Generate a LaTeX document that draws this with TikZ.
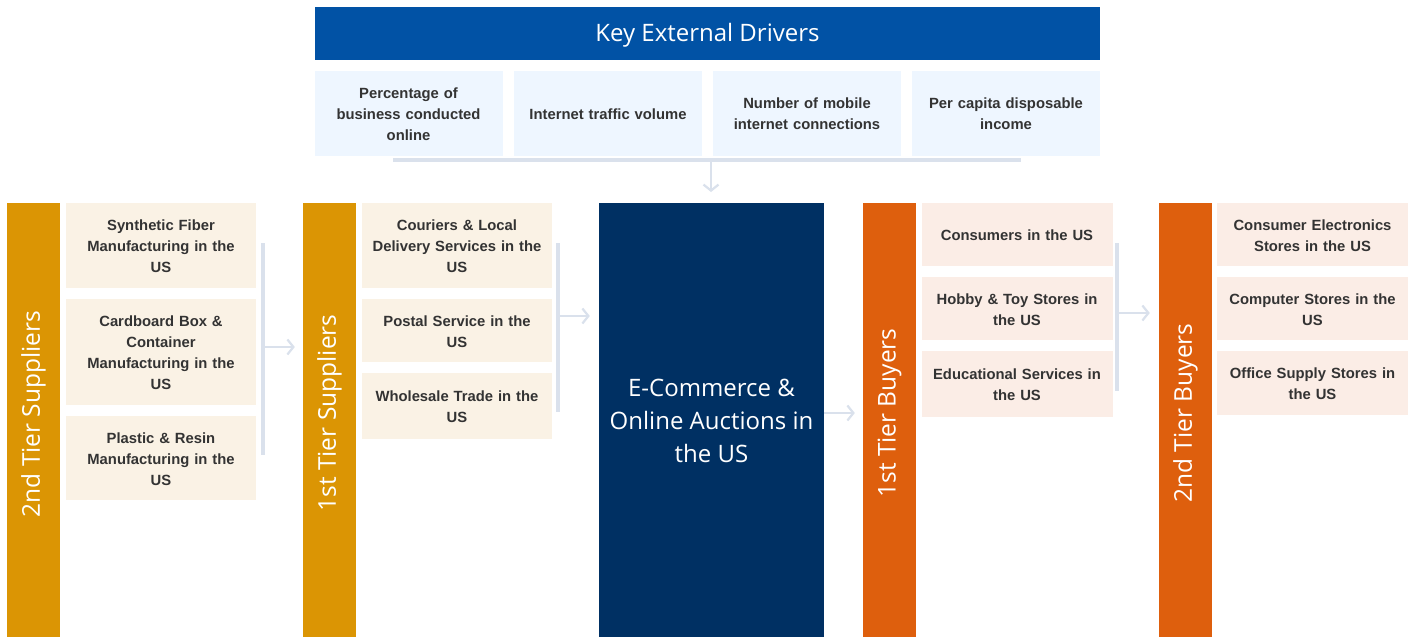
\documentclass[tikz,border=0pt]{standalone}
\usepackage{fontspec}
\setmainfont{Liberation Sans}
\newfontfamily\opensans{Open Sans}
\usetikzlibrary{arrows.meta}
\definecolor{hdrblue}{RGB}{1,82,165}
\definecolor{drvfill}{RGB}{238,246,255}
\definecolor{gold}{RGB}{219,149,4}
\definecolor{supfill}{RGB}{250,242,229}
\definecolor{navy}{RGB}{0,48,99}
\definecolor{rust}{RGB}{222,95,13}
\definecolor{buyfill}{RGB}{251,237,230}
\definecolor{link}{RGB}{218,225,236}
\definecolor{ink}{RGB}{51,51,51}
\tikzset{
  x=1pt, y=-1pt,
  cell/.style={rectangle, inner sep=0pt, align=center, text=ink,
    font=\fontsize{14.8}{21}\selectfont\bfseries},
  drv/.style={cell, fill=drvfill, minimum width=188, minimum height=85, text width=182},
  sup/.style={cell, fill=supfill, minimum width=190, text width=180},
  buy/.style={cell, fill=buyfill, minimum width=191, text width=182},
  bar/.style={rectangle, inner sep=0pt, minimum width=53, minimum height=434},
  bartext/.style={rotate=90, text=white, font=\opensans\fontsize{24.5}{28}\selectfont},
  rail/.style={draw=link, line width=4},
  flow/.style={draw=link, line width=2.2, -{Straight Barb[length=6,width=15,line width=2.2]}},
}
\begin{document}
\begin{tikzpicture}
\useasboundingbox[fill=white] (0,0) rectangle (1415,637);

% key external drivers
\node[rectangle, fill=hdrblue, minimum width=785, minimum height=53, inner sep=0pt] (hdr) at (707.5,33.5) {};
\node[text=white, font=\opensans\fontsize{24}{28}\selectfont] (hdrtext) at (707.5,35) {Key External Drivers};
\node[drv] (d1) at (408.5,113) {\rule{0pt}{13pt}Percentage of\\business conducted\\online};
\node[drv] (d2) at (608,113) {\rule{0pt}{13pt}Internet traffic volume};
\node[drv] (d3) at (807,113) {\rule{0pt}{13pt}Number of mobile\\internet connections};
\node[drv] (d4) at (1006,113) {\rule{0pt}{13pt}Per capita disposable\\income};

% industry bar
\node[rectangle, fill=navy, minimum width=225, minimum height=434, inner sep=0pt] (core) at (711.5,420) {};
\node[text=white, align=center, font=\opensans\fontsize{24}{33}\selectfont] (coretext) at (711.5,421)
  {E-Commerce \&\\Online Auctions in\\the US};

% second tier suppliers
\node[bar, fill=gold] (s2) at (33.5,420) {};
\node[bartext] at (33.5,414) {2nd Tier Suppliers};
\node[sup, minimum height=85] (s2a) at (161,245.5) {\rule{0pt}{13pt}Synthetic Fiber\\Manufacturing in the\\US};
\node[sup, minimum height=106] (s2b) at (161,352) {\rule{0pt}{13pt}Cardboard Box \&\\Container\\Manufacturing in the\\US};
\node[sup, minimum height=84] (s2c) at (161,458) {\rule{0pt}{13pt}Plastic \& Resin\\Manufacturing in the\\US};

% first tier suppliers
\node[bar, fill=gold] (s1) at (329.5,420) {};
\node[bartext] at (329.5,413) {1st Tier Suppliers};
\node[sup, minimum height=85] (s1a) at (457,245.5) {\rule{0pt}{13pt}Couriers \& Local\\Delivery Services in the\\US};
\node[sup, minimum height=63] (s1b) at (457,330.5) {\rule{0pt}{13pt}Postal Service in the\\US};
\node[sup, minimum height=66] (s1c) at (457,406) {\rule{0pt}{13pt}Wholesale Trade in the\\US};

% first tier buyers
\node[bar, fill=rust] (b1) at (889.5,420) {};
\node[bartext] at (889.5,413) {1st Tier Buyers};
\node[buy, minimum height=63] (b1a) at (1017,234.5) {\rule{0pt}{13pt}Consumers in the US};
\node[buy, minimum height=63] (b1b) at (1017,308.5) {\rule{0pt}{13pt}Hobby \& Toy Stores in\\the US};
\node[buy, minimum height=66] (b1c) at (1017,384) {\rule{0pt}{13pt}Educational Services in\\the US};

% second tier buyers
\node[bar, fill=rust] (b2) at (1185.5,420) {};
\node[bartext] at (1185.5,413) {2nd Tier Buyers};
\node[buy, minimum height=63] (b2a) at (1312.5,234.5) {\rule{0pt}{13pt}Consumer Electronics\\Stores in the US};
\node[buy, minimum height=63] (b2b) at (1312.5,308.5) {\rule{0pt}{13pt}Computer Stores in the\\US};
\node[buy, minimum height=64] (b2c) at (1312.5,383) {\rule{0pt}{13pt}Office Supply Stores in\\the US};

% joints of the connectors
\coordinate (dl) at (393,160);
\coordinate (dr) at (1021,160);
\coordinate (dj) at (711,160);
\coordinate (dtip) at (711,192);
\coordinate (j1t) at (263,243); \coordinate (j1b) at (263,455); \coordinate (j1) at (263,347);
\coordinate (j2t) at (558,243); \coordinate (j2b) at (558,412); \coordinate (j2) at (558,316);
\coordinate (j3t) at (1117,243); \coordinate (j3b) at (1117,391); \coordinate (j3) at (1117,313);

% connectors
\draw[rail] (dl) -- (dr);
\draw[flow] (dj) -- (dtip);
\draw[rail] (j1t) -- (j1b);
\draw[flow] (j1) -- ([xshift=-8]j1 -| s1.west);
\draw[rail] (j2t) -- (j2b);
\draw[flow] (j2) -- ([xshift=-9]j2 -| core.west);
\draw[flow] (core.east |- 0,413) -- ([xshift=-8]b1.west |- 0,413);
\draw[rail] (j3t) -- (j3b);
\draw[flow] (j3) -- ([xshift=-9]j3 -| b2.west);
\end{tikzpicture}
\end{document}
